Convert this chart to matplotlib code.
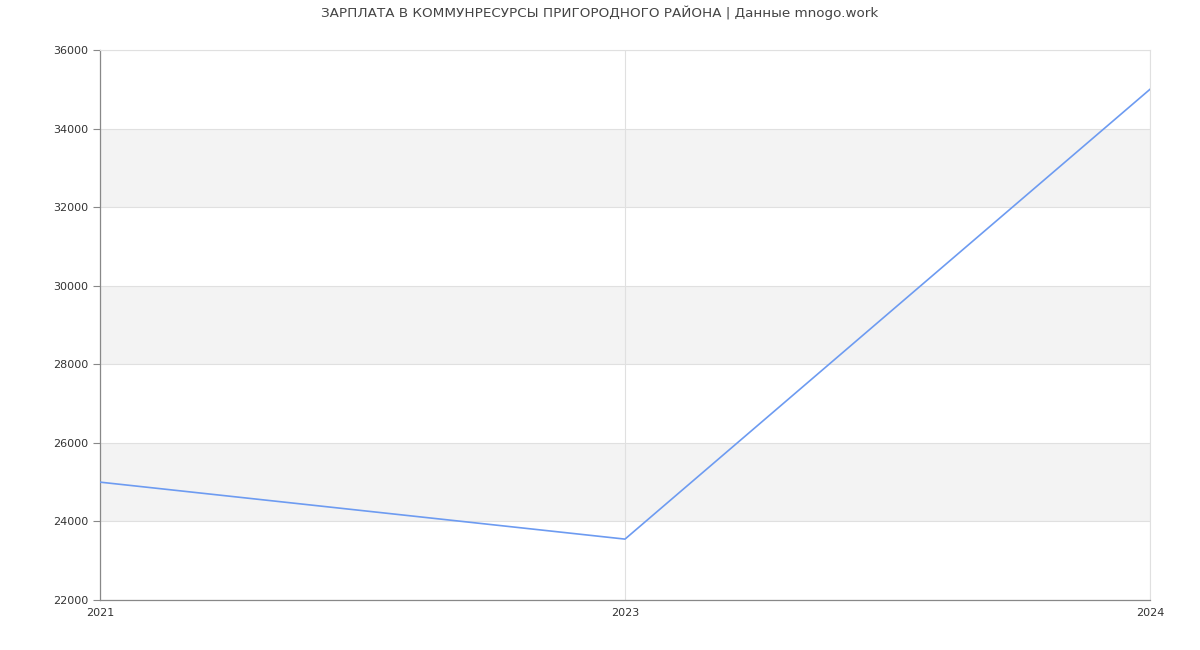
import matplotlib
matplotlib.use('Agg')
from matplotlib import pyplot as plt

years = ['2021', '2023', '2024']
salary = [25000, 23550, 35000]
y_ticks = [22000, 24000, 26000, 28000, 30000, 32000, 34000, 36000]
title = 'ЗАРПЛАТА В КОММУНРЕСУРСЫ ПРИГОРОДНОГО РАЙОНА | Данные mnogo.work'

fig = plt.figure(figsize=(12, 6.5), dpi=100)
ax = fig.add_axes([100 / 1200, 50 / 650, 1050 / 1200, 550 / 650])

x = list(range(len(years)))

# alternating bands
for i in range(len(y_ticks) - 1):
    if i % 2 == 1:
        ax.axhspan(y_ticks[i], y_ticks[i + 1], facecolor='#f3f3f3', zorder=0, lw=0)
for t in y_ticks:
    ax.axhline(t, color='#e0e0e0', lw=0.8, zorder=1)
for xi in x:
    ax.axvline(xi, color='#e0e0e0', lw=0.8, zorder=1)

ax.plot(x, salary, color='#6d9bf1', lw=1.2, zorder=3)

ax.set_xlim(0, len(years) - 1)
ax.set_ylim(y_ticks[0], y_ticks[-1])
ax.set_xticks(x)
ax.set_xticklabels(years)
ax.set_yticks(y_ticks)
ax.tick_params(axis='both', labelsize=8, colors='#333333')
ax.tick_params(axis='x', length=0, pad=6)
ax.tick_params(axis='y', length=5, color='#888888', width=0.8)
for lbl in ax.get_xticklabels():
    lbl.set_x(-0.02)

for s in ['left', 'bottom']:
    ax.spines[s].set_color('#888888')
    ax.spines[s].set_linewidth(0.9)
for s in ['top', 'right']:
    ax.spines[s].set_color('#e0e0e0')
    ax.spines[s].set_linewidth(0.8)

fig.suptitle(title, y=0.991, fontsize=9.7, color='#444444')

fig.savefig('out.png', dpi=100)
